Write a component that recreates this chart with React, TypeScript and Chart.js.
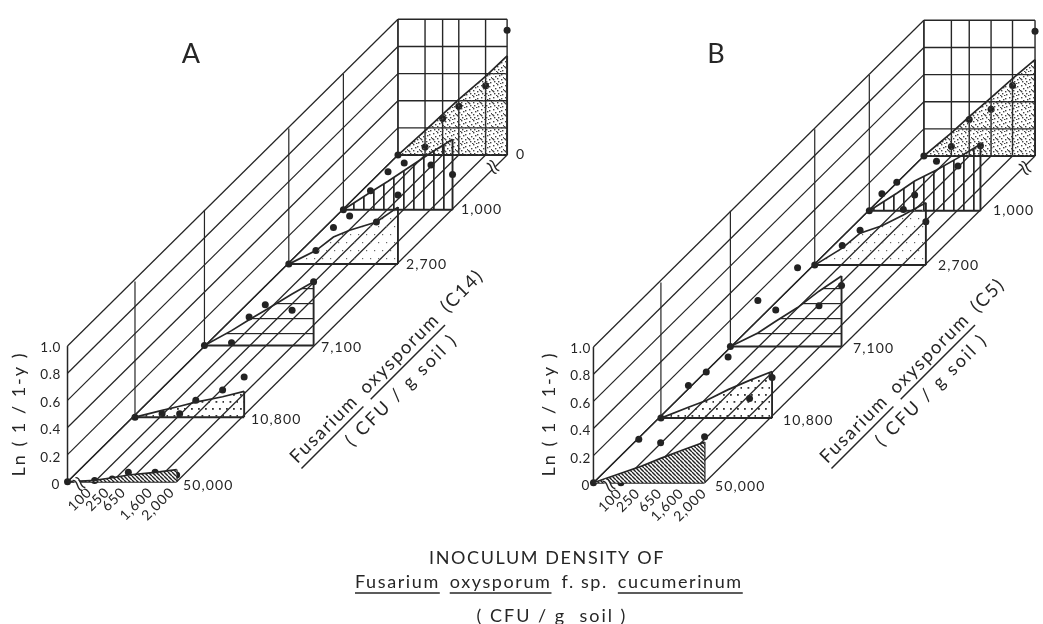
import React, { useEffect, useRef } from "react";
import { Chart, registerables } from "chart.js";

Chart.register(...registerables);

const inoculumLabels = ["0", "100", "250", "650", "1,600", "2,000"];
const densityLabels = ["50,000", "10,800", "7,100", "2,700", "1,000", "0"];
const lnTicks = [0, 0.2, 0.4, 0.6, 0.8, 1.0];

// Series order follows densityLabels. Values follow inoculumLabels.
const dotsA50000 = [0, 0.01, 0.02, 0.07, 0.07, 0.05];
const dotsA10800 = [0, 0.025, 0.025, 0.125, 0.2, 0.295];
const dotsA7100 = [0, 0.02, 0.21, 0.3, 0.26, 0.47];
const dotsA2700 = [0, 0.1, 0.27, 0.355, 0.31, 0.51];
const dotsA1000 = [0, 0.14, 0.28, 0.345, 0.33, 0.26];
const dotsA0 = [0, 0.06, 0.27, 0.36, 0.51, 0.92];

const fitA50000 = [0, 0.01, 0.03, 0.05, 0.07, 0.09];
const fitA10800 = [0, 0.05, 0.08, 0.11, 0.15, 0.19];
const fitA7100 = [0, 0.11, 0.19, 0.26, 0.38, 0.47];
const fitA2700 = [0, 0.1, 0.2, 0.25, 0.31, 0.42];
const fitA1000 = [0, 0.13, 0.21, 0.29, 0.42, 0.52];
const fitA0 = [0, 0.18, 0.3, 0.41, 0.58, 0.73];

const dotsB50000 = [0, 0, 0.32, 0.295, 0.17, 0.34];
const dotsB10800 = [0, 0.24, 0.34, 0.45, 0.145, 0.3];
const dotsB7100 = [0, 0.34, 0.27, 0.58, 0.3, 0.45];
const dotsB2700 = [0, 0.145, 0.256, 0.525, 0.41, 0.32];
const dotsB1000 = [0, 0.21, 0.116, 0.365, 0.33, 0.48];
const dotsB0 = [0, 0.07, 0.27, 0.345, 0.52, 0.92];

const fitB50000 = [0, 0.07, 0.115, 0.18, 0.24, 0.3];
const fitB10800 = [0, 0.08, 0.13, 0.21, 0.278, 0.343];
const fitB7100 = [0, 0.1, 0.186, 0.287, 0.408, 0.52];
const fitB2700 = [0, 0.125, 0.235, 0.29, 0.37, 0.46];
const fitB1000 = [0, 0.13, 0.22, 0.3, 0.39, 0.49];
const fitB0 = [0, 0.17, 0.29, 0.43, 0.57, 0.71];

const INK = "#262626";
const FONT = "Lato";
const H = 137.5;
const depthsX = [0, 68, 138, 223, 278, 333];
const depthsY = [0, 65.5, 138, 220.5, 275.5, 331];

const panelA = {
  name: "A", nameX: 191, species: "(C14)", ox: 64, oy: 484, xo: [0, 27.3, 45, 61.3, 88.3, 110],
  dots: [dotsA50000, dotsA10800, dotsA7100, dotsA2700, dotsA1000, dotsA0],
  fits: [fitA50000, fitA10800, fitA7100, fitA2700, fitA1000, fitA0],
};
const panelB = {
  name: "B", nameX: 716, species: "(C5)", ox: 594, oy: 485, xo: [0, 27.7, 45.7, 67.7, 89.3, 112],
  dots: [dotsB50000, dotsB10800, dotsB7100, dotsB2700, dotsB1000, dotsB0],
  fits: [fitB50000, fitB10800, fitB7100, fitB2700, fitB1000, fitB0],
};

type Panel = typeof panelA;

const project = (p: Panel, xIdx: number, dIdx: number, v: number) => ({
  x: p.ox + p.xo[xIdx] + depthsX[dIdx],
  y: p.oy - depthsY[dIdx] - v * H,
});

function tile(size: number, paint: (c: CanvasRenderingContext2D) => void) {
  const cv = document.createElement("canvas");
  cv.width = size;
  cv.height = size;
  const c = cv.getContext("2d")!;
  paint(c);
  return c.createPattern(cv, "repeat")!;
}

function makePatterns() {
  const fine = tile(12, (c) => {
    c.fillStyle = "#444";
    [[1, 1], [5, 0], [9, 2], [3, 4], [7, 3], [11, 5], [0, 6], [5, 6], [9, 7], [2, 9], [6, 9], [10, 10], [4, 11], [8, 11], [1, 7]].forEach(([x, y]) =>
      c.fillRect(x, y, 1.4, 1.4)
    );
  });
  const vertical = tile(10, (c) => {
    c.fillStyle = INK;
    c.fillRect(3, 0, 1.7, 10);
  });
  const sparse = tile(16, (c) => {
    c.fillStyle = "#666";
    [[2, 2], [10, 2], [6, 10], [14, 10]].forEach(([x, y]) => c.fillRect(x, y, 1.2, 1.2));
  });
  const horizontal = tile(15, (c) => {
    c.fillStyle = INK;
    c.fillRect(0, 3, 15, 1.2);
  });
  const medium = tile(14, (c) => {
    c.fillStyle = "#333";
    [[2, 2], [9, 2], [5.5, 9], [12.5, 9]].forEach(([x, y]) => c.fillRect(x, y, 1.8, 1.8));
  });
  const dense = tile(4, (c) => {
    c.fillStyle = "#fff";
    c.fillRect(0, 0, 4, 4);
    c.strokeStyle = "#222";
    c.lineWidth = 1.4;
    c.beginPath();
    for (let i = -4; i <= 4; i += 4) {
      c.moveTo(i, 0);
      c.lineTo(i + 4, 4);
    }
    c.stroke();
  });
  return [dense, medium, horizontal, sparse, vertical, fine];
}

function lineSet(data: { x: number; y: number }[], width: number, extra: object = {}) {
  return {
    data,
    showLine: true,
    borderColor: INK,
    borderWidth: width,
    pointRadius: 0,
    fill: false,
    tension: 0,
    ...extra,
  };
}

function panelDatasets(p: Panel, patterns: CanvasPattern[]) {
  const out: object[] = [];
  // Filled triangles first (each with its baseline right after it)
  depthsX.forEach((_, d) => {
    const fit = p.fits[d].map((v, i) => project(p, i, d, v));
    const base = [project(p, 0, d, 0), project(p, 5, d, 0)];
    out.push(lineSet(fit, 1.7, { fill: "+1", backgroundColor: patterns[d] }));
    out.push(lineSet(base, 2));
    out.push(lineSet([project(p, 5, d, 0), project(p, 5, d, p.fits[d][5])], 1.9));
  });
  // Wall diagonals at each Ln tick
  lnTicks.forEach((v) => {
    out.push(lineSet([project(p, 0, 0, v), project(p, 0, 5, v)], 1.25));
  });
  // Floor diagonals at each inoculum tick
  inoculumLabels.forEach((_, i) => {
    out.push(lineSet([project(p, i, 0, 0), project(p, i, 5, 0)], 1.25));
  });
  // Verticals on the left wall at each density
  depthsX.forEach((_, d) => {
    out.push(lineSet([project(p, 0, d, 0), project(p, 0, d, 1)], d === 0 ? 1.5 : 1.2));
  });
  // Back wall grid
  inoculumLabels.forEach((_, i) => {
    out.push(lineSet([project(p, i, 5, 0), project(p, i, 5, 1)], 1.4));
  });
  lnTicks.forEach((v) => {
    out.push(lineSet([project(p, 0, 5, v), project(p, 5, 5, v)], 1.4));
  });
  // Observations
  depthsX.forEach((_, d) => {
    out.push({
      data: p.dots[d].map((v, i) => project(p, i, d, v)),
      showLine: false,
      pointRadius: 3.5,
      pointBackgroundColor: "#222",
      pointBorderWidth: 0,
    });
  });
  return out;
}

function text(
  c: CanvasRenderingContext2D,
  s: string,
  x: number,
  y: number,
  size: number,
  align: CanvasTextAlign = "left",
  rot = 0,
  spacing = 0
) {
  c.save();
  c.translate(x, y);
  c.rotate(rot);
  c.font = `${size}px ${FONT}`;
  c.textAlign = align;
  c.textBaseline = "middle";
  c.fillStyle = INK;
  (c as any).letterSpacing = `${spacing}px`;
  c.fillText(s, 0, 0);
  c.restore();
}

function underlined(
  c: CanvasRenderingContext2D,
  parts: { s: string; u: boolean }[],
  x: number,
  y: number,
  size: number,
  rot: number,
  spacing: number,
  gap: number
) {
  c.save();
  c.translate(x, y);
  c.rotate(rot);
  c.font = `${size}px ${FONT}`;
  (c as any).letterSpacing = `${spacing}px`;
  c.textAlign = "left";
  c.textBaseline = "middle";
  c.fillStyle = INK;
  c.strokeStyle = INK;
  c.lineWidth = 1.5;
  let cx = 0;
  parts.forEach(({ s, u }) => {
    c.fillText(s, cx, 0);
    const w = c.measureText(s).width;
    if (u) {
      c.beginPath();
      c.moveTo(cx, gap);
      c.lineTo(cx + w, gap);
      c.stroke();
    }
    cx += w + c.measureText(" ").width * 1.6;
  });
  c.restore();
}

function squiggle(c: CanvasRenderingContext2D, x: number, y: number) {
  c.save();
  c.translate(x, y);
  c.rotate(-Math.PI / 4);
  c.fillStyle = "#fff";
  c.fillRect(-2, -7, 4, 14);
  c.strokeStyle = INK;
  c.lineWidth = 1.4;
  [-2, 2].forEach((dx) => {
    c.beginPath();
    c.moveTo(dx, -7);
    c.bezierCurveTo(dx + 5, -3, dx - 5, 3, dx, 7);
    c.stroke();
  });
  c.restore();
}

const labelPlugin = {
  id: "labels",
  afterDatasetsDraw(chart: Chart) {
    const c = chart.ctx;
    [panelA, panelB].forEach((p) => {
      const shift = p.ox - panelA.ox;
      text(c, p.name, p.nameX, 54, 27, "center");
      lnTicks.forEach((v, i) => {
        text(c, i === 0 ? "0" : v.toFixed(1), p.ox - (i === 0 ? 4 : 3), p.oy - v * H + 1, 13.5, "right", 0, 0.6);
      });
      text(c, "Ln ( 1 / 1-y )", p.ox - 45, 414, 18, "center", -Math.PI / 2, 2);
      inoculumLabels.slice(1).forEach((s, i) => {
        const tx = p.ox + p.xo[i + 1];
        text(c, s, tx - 2, p.oy + 6, 14, "right", -Math.PI / 4, 0.8);
      });
      densityLabels.forEach((s, d) => {
        const at = project(p, 5, d, 0);
        text(c, s, at.x + 9, at.y + 1, 14, "left", 0, 1.1);
      });
      underlined(
        c,
        [
          { s: "Fusarium", u: true },
          { s: "oxysporum", u: true },
          { s: p.species, u: false },
        ],
        293 + shift,
        460,
        18.5,
        -Math.PI / 4,
        1.7,
        12
      );
      text(c, "( CFU / g soil )", 401.5 + shift, 390, 18, "center", -Math.PI / 4, 2.4);
      squiggle(c, p.ox + 15, p.oy);
      const end = project(p, 5, 5, 0);
      squiggle(c, end.x - 14, end.y + 14);
    });
    text(c, "INOCULUM DENSITY OF", 547, 558, 18, "center", 0, 1.6);
    underlined(
      c,
      [
        { s: "Fusarium", u: true },
        { s: "oxysporum", u: true },
        { s: "f. sp.", u: false },
        { s: "cucumerinum", u: true },
      ],
      355,
      582,
      18,
      0,
      1.6,
      11
    );
    text(c, "( CFU / g  soil )", 552, 616, 18, "center", 0, 2);
  },
};

export default function App() {
  const ref = useRef<HTMLCanvasElement>(null);
  useEffect(() => {
    const patterns = makePatterns();
    const chart = new Chart(ref.current!, {
      type: "scatter",
      data: {
        datasets: [...panelDatasets(panelA, patterns), ...panelDatasets(panelB, patterns)] as any,
      },
      options: {
        animation: false,
        responsive: false,
        events: [],
        layout: { padding: 0 },
        plugins: { legend: { display: false }, tooltip: { enabled: false }, title: { display: false } },
        scales: {
          x: { type: "linear", min: 0, max: 1043, display: false },
          y: { type: "linear", min: 0, max: 624, reverse: true, display: false },
        },
      },
      plugins: [labelPlugin],
    });
    return () => chart.destroy();
  }, []);
  return (
    <canvas
      ref={ref}
      width={1043}
      height={624}
      style={{ position: "absolute", left: 0, top: 0, display: "block", background: "#fff" }}
    />
  );
}
